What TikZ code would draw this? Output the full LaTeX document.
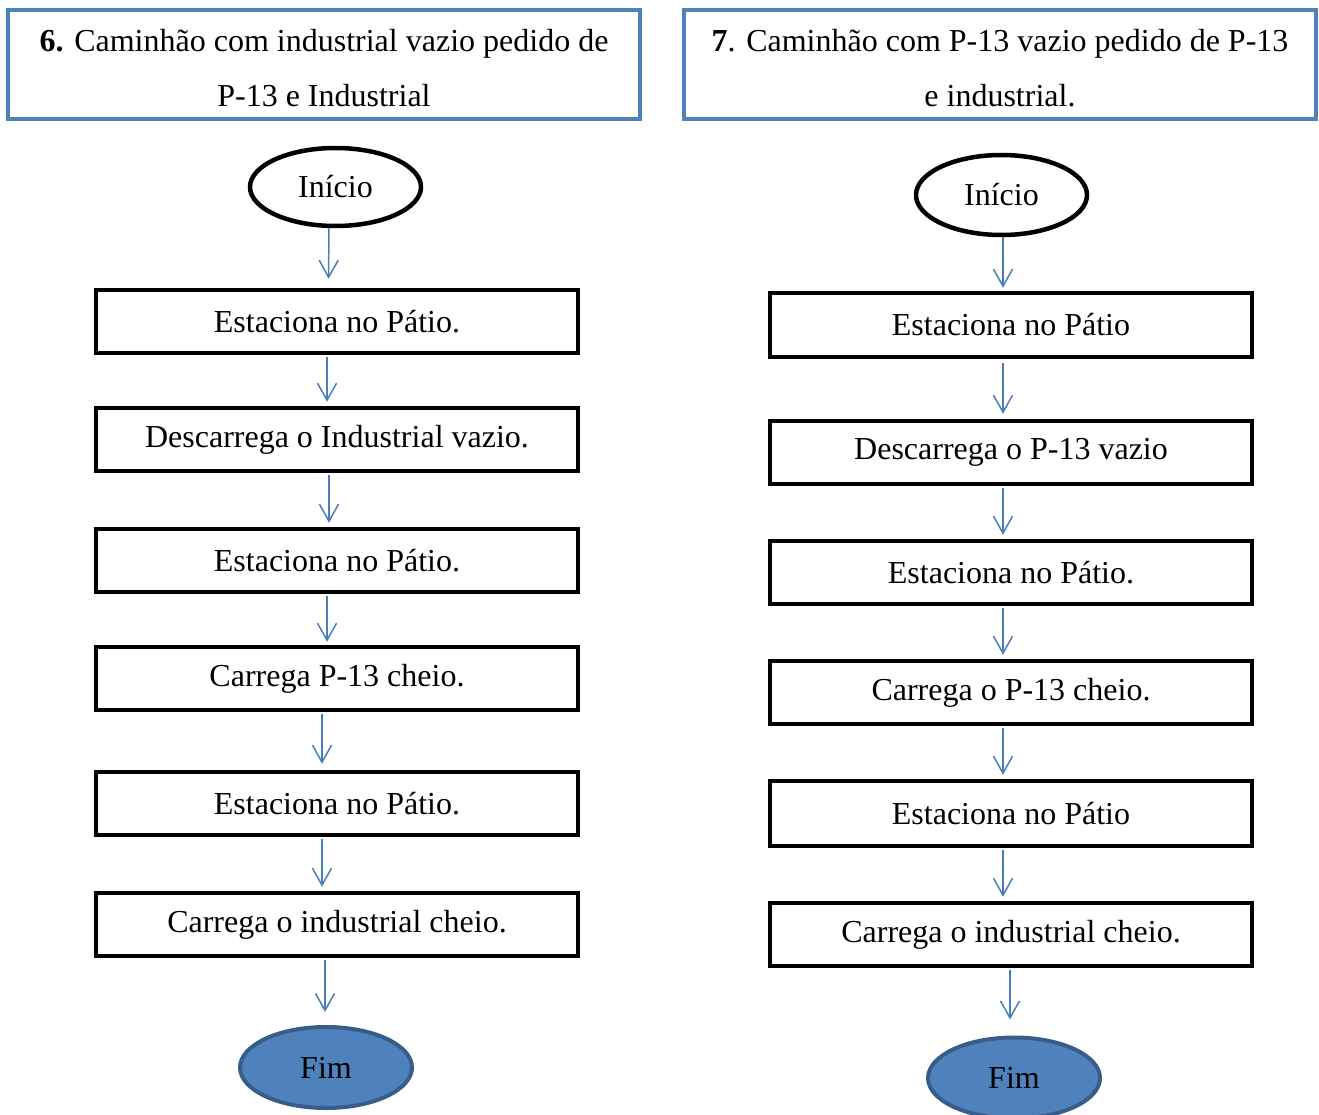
\documentclass[tikz,border=0pt]{standalone}
\usepackage{fontspec}
\setmainfont{Liberation Serif}
\usetikzlibrary{shapes.geometric,arrows.meta}
\definecolor{hdrblue}{HTML}{4F81BD}
\definecolor{arrblue}{HTML}{4A7EBB}
\definecolor{fimfill}{HTML}{4F81BD}
\definecolor{fimedge}{HTML}{385D8A}
\tikzset{
  hdr/.style={draw=hdrblue, line width=4pt, minimum width=632pt, minimum height=109pt, inner sep=0pt, align=center, font=\fontsize{32}{55}\selectfont},
  pbox/.style={draw=black, line width=4.5pt, minimum width=482pt, minimum height=63pt, inner sep=0pt, font=\fontsize{32}{36}\selectfont},
  startnode/.style={ellipse, draw=black, line width=4.5pt, minimum width=171pt, minimum height=78pt, inner sep=0pt, font=\fontsize{32}{36}\selectfont},
  endnode/.style={ellipse, draw=fimedge, fill=fimfill, line width=4pt, minimum width=172pt, minimum height=81pt, inner sep=0pt, font=\fontsize{32}{36}\selectfont},
  flow/.style={draw=arrblue, line width=1.5pt, -{Straight Barb[length=17pt,width=19pt,line width=1.5pt]}}
}
\begin{document}
\begin{tikzpicture}[x=1pt,y=-1pt]
\useasboundingbox (0,0) rectangle (1319,1115);
\clip (0,0) rectangle (1319,1115);
% headers
\node[hdr] (h6) at (324,64.5) {\rule{0pt}{29pt}\textbf{6.} Caminhão com industrial vazio pedido de\\P-13 e Industrial};
\node[hdr] (h7) at (1000,64.5) {\rule{0pt}{29pt}\textbf{7}. Caminhão com P-13 vazio pedido de P-13\\e industrial.};
% left column
\node[startnode] (li) at (335.5,187) {Início};
\node[pbox] (l1) at (337,321.5) {Estaciona no Pátio.};
\node[pbox] (l2) at (337,439.5) {Descarrega o Industrial vazio.};
\node[pbox] (l3) at (337,560.5) {Estaciona no Pátio.};
\node[pbox] (l4) at (337,678.5) {Carrega P-13 cheio.};
\node[pbox] (l5) at (337,803.5) {Estaciona no Pátio.};
\node[pbox] (l6) at (337,924.5) {Carrega o industrial cheio.};
\node[endnode] (lf) at (326,1067.5) {Fim};
\draw[flow] ([xshift=-6.5pt]li.south) -- ([xshift=-8.5pt,yshift=9pt]l1.north);
\draw[flow] ([xshift=-10pt,yshift=-2pt]l1.south) -- ([xshift=-10pt,yshift=4pt]l2.north);
\draw[flow] ([xshift=-8pt,yshift=-2pt]l2.south) -- ([xshift=-8pt,yshift=4pt]l3.north);
\draw[flow] ([xshift=-10pt,yshift=-2pt]l3.south) -- ([xshift=-10pt,yshift=3pt]l4.north);
\draw[flow] ([xshift=-15pt,yshift=-2pt]l4.south) -- ([xshift=-15pt,yshift=6pt]l5.north);
\draw[flow] ([xshift=-15pt,yshift=-2pt]l5.south) -- ([xshift=-15pt,yshift=4pt]l6.north);
\draw[flow] ([xshift=-12pt,yshift=-2pt]l6.south) -- ([xshift=-1pt,yshift=13pt]lf.north);
% right column
\node[startnode, minimum height=80pt] (ri) at (1001.5,195) {Início};
\node[pbox, minimum height=64pt] (r1) at (1011,325) {Estaciona no Pátio};
\node[pbox] (r2) at (1011,452.5) {Descarrega o P-13 vazio};
\node[pbox] (r3) at (1011,572.5) {Estaciona no Pátio.};
\node[pbox] (r4) at (1011,692.5) {Carrega o P-13 cheio.};
\node[pbox, minimum height=65pt] (r5) at (1011,813.5) {Estaciona no Pátio};
\node[pbox] (r6) at (1011,934.5) {Carrega o industrial cheio.};
\node[endnode] (rf) at (1014,1078) {Fim};
\draw[flow] ([xshift=1.5pt]ri.south) -- ([xshift=-8pt,yshift=3pt]r1.north);
\draw[flow] ([xshift=-8pt,yshift=-4pt]r1.south) -- ([xshift=-8pt,yshift=5pt]r2.north);
\draw[flow] ([xshift=-8pt,yshift=-2pt]r2.south) -- ([xshift=-8pt,yshift=4pt]r3.north);
\draw[flow] ([xshift=-8pt,yshift=-2pt]r3.south) -- ([xshift=-8pt,yshift=4pt]r4.north);
\draw[flow] ([xshift=-8pt,yshift=-2pt]r4.south) -- ([xshift=-8pt,yshift=4pt]r5.north);
\draw[flow] ([xshift=-8pt,yshift=-2pt]r5.south) -- ([xshift=-8pt,yshift=4pt]r6.north);
\draw[flow] ([xshift=-1pt,yshift=-2pt]r6.south) -- ([xshift=-4pt,yshift=16pt]rf.north);
\end{tikzpicture}
\end{document}
